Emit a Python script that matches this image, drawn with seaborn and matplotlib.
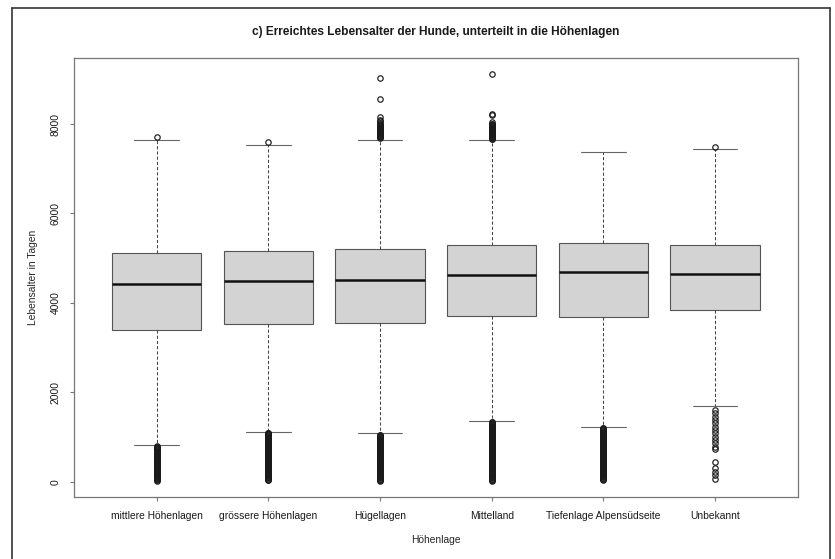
import numpy as np
import pandas as pd
import matplotlib
matplotlib.use("Agg")
import matplotlib.pyplot as plt
from matplotlib.lines import Line2D
import seaborn as sns

# Altitude zones of the dogs' home
categories = ["mittlere Höhenlagen", "grössere Höhenlagen", "Hügellagen",
              "Mittelland", "Tiefenlage Alpensüdseite", "Unbekannt"]

# Box statistics (age reached, in days)
q1 = [3400, 3534, 3543, 3715, 3690, 3845]
median = [4415, 4495, 4511, 4623, 4683, 4652]
q3 = [5122, 5152, 5198, 5290, 5335, 5290]
whisker_low = [820, 1112, 1089, 1364, 1230, 1693]
whisker_high = [7642, 7523, 7635, 7635, 7374, 7440]

# Outlying ages below the lower whisker
low_mittlere = [18, 35, 50, 67, 84, 99, 116, 133, 148, 165, 182, 197, 214, 231,
                246, 263, 280, 295, 312, 329, 344, 361, 378, 393, 410, 427,
                442, 459, 476, 491, 508, 525, 540, 557, 574, 589, 606, 623,
                638, 655, 672, 687, 704, 721, 736, 753, 770, 785, 798]
low_groessere = [31, 47, 64, 80, 97, 113, 129, 146, 163, 179, 196, 212, 228,
                 245, 262, 278, 295, 311, 327, 344, 361, 377, 394, 410, 426,
                 443, 459, 476, 492, 508, 525, 541, 558, 574, 590, 607, 623,
                 640, 657, 673, 689, 706, 722, 739, 755, 771, 788, 804, 820,
                 837, 853, 870, 886, 902, 918, 935, 951, 968, 984, 1000, 1016,
                 1033, 1049, 1064, 1078, 1090, 1097]
low_huegel = [14, 30, 45, 62, 78, 94, 111, 127, 143, 160, 176, 192, 209, 225,
              241, 258, 274, 290, 307, 323, 339, 356, 372, 388, 405, 421, 437,
              454, 470, 486, 503, 519, 535, 552, 568, 584, 601, 617, 633, 650,
              666, 682, 699, 715, 731, 748, 764, 780, 797, 813, 829, 846, 862,
              878, 895, 911, 927, 944, 960, 976, 993, 1008, 1022, 1036, 1048]
low_mittelland = [16, 32, 48, 65, 81, 97, 113, 130, 146, 162, 178, 195, 211,
                  227, 243, 260, 276, 292, 308, 325, 341, 357, 373, 390, 406,
                  422, 438, 455, 471, 487, 503, 520, 536, 552, 568, 585, 601,
                  617, 633, 650, 666, 682, 698, 715, 731, 747, 763, 780, 796,
                  812, 828, 845, 861, 877, 893, 910, 926, 942, 958, 975, 991,
                  1007, 1023, 1040, 1056, 1072, 1088, 1105, 1121, 1137, 1153,
                  1170, 1186, 1202, 1218, 1235, 1251, 1267, 1283, 1300, 1316,
                  1331, 1345]
low_tiefenlage = [38, 54, 70, 87, 103, 119, 135, 152, 168, 184, 200, 217, 233,
                  249, 265, 282, 298, 314, 330, 347, 363, 379, 395, 412, 428,
                  444, 460, 477, 493, 509, 525, 542, 558, 574, 590, 607, 623,
                  639, 655, 672, 688, 704, 720, 737, 753, 769, 785, 802, 818,
                  834, 850, 867, 883, 899, 915, 932, 948, 964, 980, 997, 1013,
                  1029, 1045, 1062, 1078, 1094, 1110, 1127, 1143, 1159, 1175,
                  1191, 1205]
low_unbekannt = [60, 143, 224, 313, 434, 725, 783, 858, 932, 1006, 1082, 1156,
                 1230, 1306, 1380, 1454, 1530, 1604]

# Outlying ages above the upper whisker
high_mittlere = [7710]
high_groessere = [7597]
high_huegel = [7688, 7700, 7712, 7725, 7738, 7750, 7763, 7776, 7789, 7802,
               7815, 7828, 7840, 7853, 7866, 7880, 7893, 7907, 7921, 7938,
               7955, 7972, 7990, 8025, 8060, 8092, 8163, 8559, 9035]
high_mittelland = [7662, 7675, 7688, 7700, 7713, 7726, 7739, 7752, 7766, 7780,
                   7794, 7808, 7822, 7836, 7851, 7865, 7880, 7896, 7912, 7928,
                   7945, 7962, 7980, 7995, 8010, 8051, 8195, 8228, 9119]
high_tiefenlage = []
high_unbekannt = [7485]

low_outliers = [low_mittlere, low_groessere, low_huegel,
                low_mittelland, low_tiefenlage, low_unbekannt]
high_outliers = [high_mittlere, high_groessere, high_huegel,
                 high_mittelland, high_tiefenlage, high_unbekannt]

# Long-format table: the quartile values are weighted so that the
# boxplot recovers exactly the box statistics listed above.
WEIGHT = 1000
rows = []
for i, cat in enumerate(categories):
    vals = (list(low_outliers[i]) + [whisker_low[i]]
            + [q1[i]] * WEIGHT + [median[i]] * WEIGHT + [q3[i]] * WEIGHT
            + [whisker_high[i]] + list(high_outliers[i]))
    rows.append(pd.DataFrame({"Höhenlage": cat, "Tage": vals}))
df = pd.concat(rows, ignore_index=True)

sns.set_theme(style="white")
plt.rcParams["font.family"] = ["Liberation Sans", "DejaVu Sans"]
plt.rcParams["text.color"] = "#1a1a1a"

W, H = 835, 559
fig = plt.figure(figsize=(W / 100, H / 100), dpi=100)
ax_l, ax_r, ax_t, ax_b = 74, 797.7, 57.7, 497.3
ax = fig.add_axes([ax_l / W, 1 - ax_b / H, (ax_r - ax_l) / W, (ax_b - ax_t) / H])

edge = "#555555"
sns.boxplot(
    data=df, x="Höhenlage", y="Tage", order=categories, ax=ax,
    width=0.8, color="#D3D3D3", saturation=1, linecolor=edge, linewidth=0.8,
    whis=1.5, fliersize=3.9,
    flierprops=dict(marker="o", markerfacecolor="none",
                    markeredgecolor="#1a1a1a", markeredgewidth=0.85),
    whiskerprops=dict(linestyle=(0, (3, 2)), color="#444444", linewidth=0.75),
    capprops=dict(color="#666666", linewidth=0.8),
    medianprops=dict(color="#111111", linewidth=1.8),
    boxprops=dict(edgecolor=edge, linewidth=0.8),
)

ax.set_xlim(-0.74, 5.74)
ax.set_ylim(-349, 9483)
ax.set_yticks([0, 2000, 4000, 6000, 8000])
ax.set_yticklabels(["0", "2000", "4000", "6000", "8000"],
                   rotation=90, va="center")

for s in ax.spines.values():
    s.set_visible(True)
    s.set_color("#777777")
    s.set_linewidth(0.9)

ax.tick_params(axis="both", direction="out", length=2.9, width=0.8,
               color="#777777", labelsize=7.4, labelcolor="#1a1a1a")
ax.tick_params(axis="y", pad=6.5, left=True)
ax.tick_params(axis="x", pad=7.0, bottom=True)

ax.set_xlabel("Höhenlage", fontsize=7.4)
ax.set_ylabel("Lebensalter in Tagen", fontsize=7.4)
ax.xaxis.set_label_coords(0.5, (ax_b - 540) / (ax_b - ax_t))
ax.xaxis.label.set_va("center")
ax.yaxis.set_label_coords((33 - ax_l) / (ax_r - ax_l), 0.5)
ax.yaxis.label.set_va("center")

ax.text(0.5, (ax_b - 32) / (ax_b - ax_t),
        "c) Erreichtes Lebensalter der Hunde, unterteilt in die Höhenlagen",
        transform=ax.transAxes, ha="center", va="center",
        fontsize=8.6, fontweight="bold")

# Outer frame of the figure (open at the bottom edge)
frame_kw = dict(color="#333333", linewidth=1.2, transform=fig.transFigure)
x0, x1, y0, y1 = 12 / W, 830 / W, 1 - 8 / H, 0.0
fig.add_artist(Line2D([x0, x1], [y0, y0], **frame_kw))
fig.add_artist(Line2D([x0, x0], [y0, y1], **frame_kw))
fig.add_artist(Line2D([x1, x1], [y0, y1], **frame_kw))

fig.savefig("out.png", dpi=100, facecolor="white")
